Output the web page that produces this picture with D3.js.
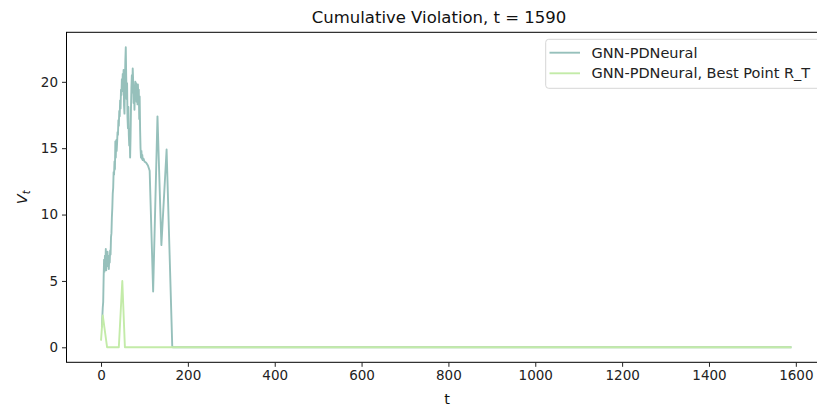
<!DOCTYPE html>
<html>
<head>
<meta charset="utf-8">
<script src="https://cdn.jsdelivr.net/npm/d3@7"></script>
<style>
  body { margin: 0; background: #fff; }
  svg { font-family: 'DejaVu Sans', sans-serif; }
</style>
</head>
<body>
<div id="chart"></div>
<script>
// cumulative violation, GNN-PDNeural
const teal = [
  [2, 1.5], [3, 2.3], [4, 3.0], [5, 3.4], [6, 5.2], [7, 6.6], [8, 5.7], [9, 6.9], [10, 6.0],
  [11, 7.4], [12, 5.8], [13, 6.8], [14, 6.1], [15, 7.2], [16, 6.2], [17, 6.9], [18, 5.9],
  [19, 6.7], [20, 6.4], [21, 7.3], [22, 7.0], [23, 8.3], [24, 8.6], [25, 9.8], [26, 10.5],
  [27, 11.6], [28, 12.0], [29, 13.2], [30, 13.0], [31, 14.0], [32, 13.4], [33, 15.5],
  [34, 14.3], [35, 15.6], [36, 14.8], [37, 15.4], [38, 16.2], [39, 16.0], [40, 17.1],
  [41, 16.7], [42, 17.8], [43, 17.4], [44, 18.6], [45, 18.0], [46, 19.4], [47, 19.0],
  [48, 20.2], [49, 19.3], [50, 20.6], [51, 19.5], [52, 20.9], [53, 18.2], [54, 17.6],
  [55, 19.8], [56, 21.6], [57, 22.6], [58, 20.4], [59, 18.7], [60, 19.9], [61, 17.3],
  [62, 16.5], [63, 18.1], [64, 16.0], [65, 15.2], [66, 16.4], [67, 14.3], [68, 15.8],
  [69, 18.0], [70, 19.6], [71, 20.5], [72, 19.2], [73, 21.0], [74, 20.1], [75, 18.4],
  [76, 19.7], [77, 17.9], [78, 19.4], [79, 20.0], [80, 18.8], [81, 19.9], [82, 18.5],
  [83, 19.6], [84, 18.3], [85, 19.8], [86, 18.6], [87, 19.4], [88, 17.2], [89, 18.9],
  [90, 16.4], [91, 15.0], [92, 14.3], [93, 14.8], [94, 14.2], [95, 14.5], [96, 14.1],
  [98, 14.2], [100, 14.0], [104, 13.9], [108, 13.7], [112, 13.3], [120, 4.2], [130, 17.4],
  [139, 7.7], [151, 14.9], [164, 0.1], [165, 0], [1590, 0],
];

// best point R_T
const green = [[0, 0.5], [4, 2.4], [14, 0], [41, 0], [49, 5.0], [55, 0], [1590, 0]];

const legendLabels = ['GNN-PDNeural', 'GNN-PDNeural, Best Point R_T'];
const colors = ['#96c0bb', '#c3eba8'];
const xTicks = [0, 200, 400, 600, 800, 1000, 1200, 1400, 1600];
const yTicks = [0, 5, 10, 15, 20];

const width = 817;
const height = 407;
const mLeft = 66.5;
const mRight = 826; // axes runs past the cropped edge
const mTop = 32.3;
const mBottom = 362.3;

const svg = d3
  .select('#chart')
  .append('svg')
  .attr('width', width)
  .attr('height', height);

const allPts = teal.concat(green);
const xExt = d3.extent(allPts, (d) => d[0]);
const yExt = d3.extent(allPts, (d) => d[1]);
const xPad = (xExt[1] - xExt[0]) * 0.05;
const yPad = (yExt[1] - yExt[0]) * 0.05;

const xScale = d3.scaleLinear().domain([xExt[0] - xPad, xExt[1] + xPad]).range([mLeft, mRight]);
const yScale = d3.scaleLinear().domain([yExt[0] - yPad, yExt[1] + yPad]).range([mBottom, mTop]);

const line = d3
  .line()
  .x((d) => xScale(d[0]))
  .y((d) => yScale(d[1]));

[teal, green].forEach((ds, i) => {
  svg
    .append('path')
    .datum(ds)
    .attr('fill', 'none')
    .attr('stroke', colors[i])
    .attr('stroke-width', 1.9)
    .attr('stroke-linejoin', 'round')
    .attr('d', line);
});

// frame
svg
  .append('rect')
  .attr('x', mLeft)
  .attr('y', mTop)
  .attr('width', mRight - mLeft)
  .attr('height', mBottom - mTop)
  .attr('fill', 'none')
  .attr('stroke', '#000')
  .attr('stroke-width', 1);

const xAxis = svg
  .append('g')
  .attr('transform', `translate(0, ${mBottom})`)
  .call(d3.axisBottom(xScale).tickValues(xTicks).tickFormat(d3.format('d')).tickSize(4.5).tickPadding(4).tickSizeOuter(0));
const yAxis = svg
  .append('g')
  .attr('transform', `translate(${mLeft}, 0)`)
  .call(d3.axisLeft(yScale).tickValues(yTicks).tickFormat(d3.format('d')).tickSize(4.5).tickPadding(4).tickSizeOuter(0));
[xAxis, yAxis].forEach((g) => {
  g.select('.domain').remove();
  g.selectAll('text').attr('font-size', 13.5).attr('fill', '#222').attr('font-family', 'DejaVu Sans');
  g.selectAll('line').attr('stroke', '#222');
});

svg
  .append('text')
  .attr('text-anchor', 'middle')
  .attr('x', 439)
  .attr('y', 23)
  .attr('font-size', 16.5)
  .attr('fill', '#111')
  .text('Cumulative Violation, t = 1590');

svg
  .append('text')
  .attr('text-anchor', 'middle')
  .attr('x', 447)
  .attr('y', 404)
  .attr('font-size', 14.5)
  .attr('fill', '#111')
  .text('t');

const yl = svg
  .append('text')
  .attr('text-anchor', 'middle')
  .attr('transform', `translate(27, ${(mTop + mBottom) / 2}) rotate(-90)`)
  .attr('font-size', 14.5)
  .attr('fill', '#111');
yl.append('tspan').attr('font-style', 'italic').text('V');
yl.append('tspan').attr('font-style', 'italic').attr('font-size', 10).attr('dy', 3).text('t');

// legend
const lg = svg.append('g');
lg.append('rect')
  .attr('x', 545.7)
  .attr('y', 39.3)
  .attr('width', 300)
  .attr('height', 49)
  .attr('rx', 3)
  .attr('fill', 'rgba(255,255,255,0.8)')
  .attr('stroke', '#d6d6d6')
  .attr('stroke-width', 1);
legendLabels.forEach((lab, i) => {
  const y = 52.7 + i * 20.6;
  lg.append('line')
    .attr('x1', 549.5)
    .attr('x2', 580)
    .attr('y1', y)
    .attr('y2', y)
    .attr('stroke', colors[i])
    .attr('stroke-width', 1.9);
  lg.append('text')
    .attr('x', 591.5)
    .attr('y', y + 5)
    .attr('font-size', 14.5)
    .attr('fill', '#222')
    .text(lab);
});
</script>
</body>
</html>
